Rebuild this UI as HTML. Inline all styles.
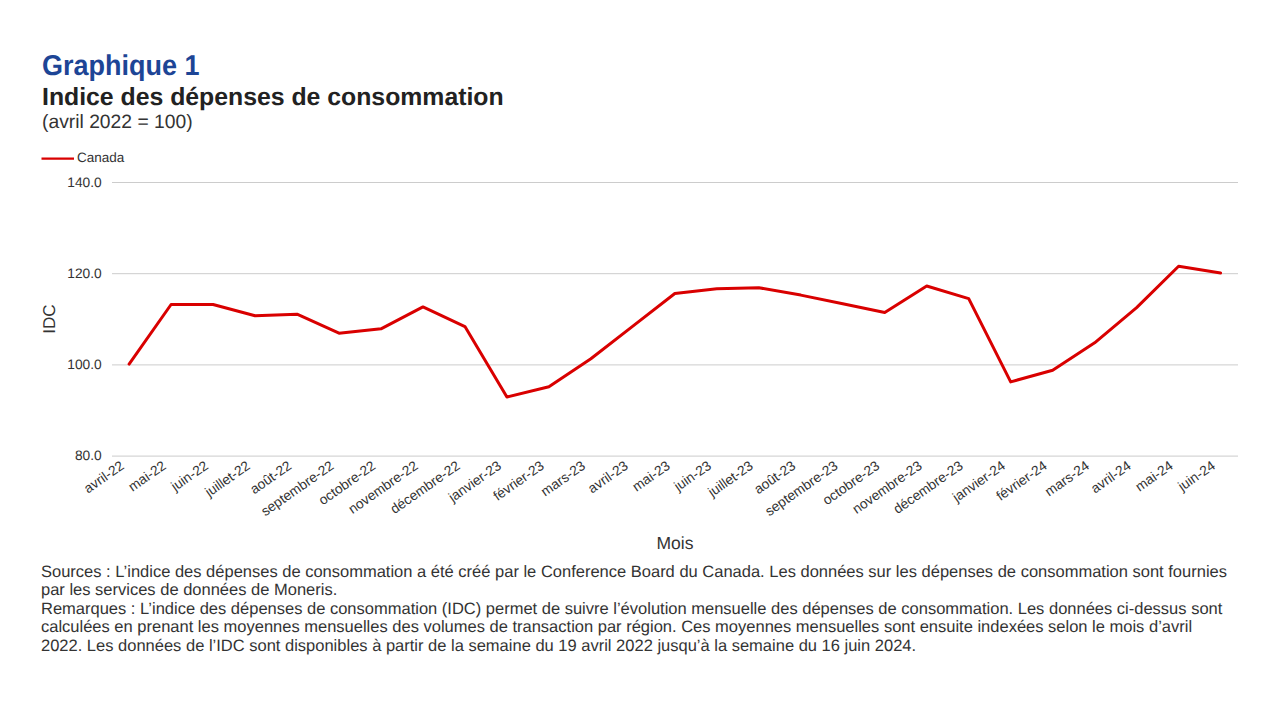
<!DOCTYPE html>
<html lang="fr"><head><meta charset="utf-8"><title>Graphique 1</title>
<style>
html,body{margin:0;padding:0;background:#fff;}
body{width:1284px;height:708px;position:relative;overflow:hidden;font-family:"Liberation Sans",sans-serif;color:#333;text-rendering:geometricPrecision;}
.abs{position:absolute;white-space:nowrap;}
#t1{left:42px;top:49px;font-size:27px;font-weight:bold;color:#1d4596;line-height:32px;transform-origin:0 10.4px;transform:scaleY(1.06);}
#t2{left:42px;top:82.8px;font-size:24.8px;font-weight:bold;color:#222;line-height:29px;}
#t3{left:42px;top:110.7px;font-size:19.3px;color:#333;line-height:23px;}
#leg{left:77px;top:150px;font-size:13.5px;color:#333;line-height:16px;}
.yl{position:absolute;right:1182.3px;font-size:13.75px;line-height:15px;color:#333;white-space:nowrap;}
.xl{position:absolute;font-size:13.75px;line-height:15px;color:#333;white-space:nowrap;transform-origin:100% 0;transform:rotate(-35deg);}
#idc{left:50.1px;top:318.6px;font-size:17.1px;color:#333;line-height:20px;transform:translate(-50%,-50%) rotate(-90deg);}
#mois{left:675px;top:532.8px;font-size:17.5px;color:#333;line-height:20px;transform:translateX(-50%);}
#notes{left:41px;top:562.5px;width:1191px;font-size:16.5px;line-height:18.5px;color:#333;white-space:normal;}
#notes p{margin:0;}
svg{position:absolute;left:0;top:0;}
</style></head><body>
<svg width="1284" height="708" viewBox="0 0 1284 708"><line x1="112" y1="182.5" x2="1238" y2="182.5" stroke="#cccccc" stroke-width="1"/><line x1="112" y1="273.7" x2="1238" y2="273.7" stroke="#cccccc" stroke-width="1"/><line x1="112" y1="364.9" x2="1238" y2="364.9" stroke="#cccccc" stroke-width="1"/><line x1="112" y1="456.1" x2="1238" y2="456.1" stroke="#cccccc" stroke-width="1"/><polyline points="129.10,364.10 171.08,304.50 213.06,304.50 255.04,315.70 297.02,314.20 339.00,333.20 380.98,328.80 422.96,306.90 464.94,326.60 506.92,397.00 548.90,386.70 590.88,358.70 632.86,326.10 674.84,293.50 716.82,288.80 758.80,287.70 800.78,295.10 842.76,303.70 884.74,312.50 926.72,286.00 968.70,298.60 1010.68,381.90 1052.66,370.30 1094.64,342.80 1136.62,307.60 1178.60,266.20 1220.58,273.00" fill="none" stroke="#d90000" stroke-width="3" stroke-linejoin="round" stroke-linecap="round"/><line x1="41.5" y1="158.6" x2="74" y2="158.6" stroke="#d90000" stroke-width="2.4"/></svg>
<div id="t1" class="abs">Graphique 1</div>
<div id="t2" class="abs">Indice des dépenses de consommation</div>
<div id="t3" class="abs">(avril 2022 = 100)</div>
<div id="leg" class="abs">Canada</div>
<div class="yl" style="top:174.5px">140.0</div><div class="yl" style="top:265.7px">120.0</div><div class="yl" style="top:356.9px">100.0</div><div class="yl" style="top:448.1px">80.0</div>
<div class="xl" style="right:1166.10px;top:457.7px">avril-22</div><div class="xl" style="right:1124.12px;top:457.7px">mai-22</div><div class="xl" style="right:1082.14px;top:457.7px">juin-22</div><div class="xl" style="right:1040.16px;top:457.7px">juillet-22</div><div class="xl" style="right:998.18px;top:457.7px">août-22</div><div class="xl" style="right:956.20px;top:457.7px">septembre-22</div><div class="xl" style="right:914.22px;top:457.7px">octobre-22</div><div class="xl" style="right:872.24px;top:457.7px">novembre-22</div><div class="xl" style="right:830.26px;top:457.7px">décembre-22</div><div class="xl" style="right:788.28px;top:457.7px">janvier-23</div><div class="xl" style="right:746.30px;top:457.7px">février-23</div><div class="xl" style="right:704.32px;top:457.7px">mars-23</div><div class="xl" style="right:662.34px;top:457.7px">avril-23</div><div class="xl" style="right:620.36px;top:457.7px">mai-23</div><div class="xl" style="right:578.38px;top:457.7px">juin-23</div><div class="xl" style="right:536.40px;top:457.7px">juillet-23</div><div class="xl" style="right:494.42px;top:457.7px">août-23</div><div class="xl" style="right:452.44px;top:457.7px">septembre-23</div><div class="xl" style="right:410.46px;top:457.7px">octobre-23</div><div class="xl" style="right:368.48px;top:457.7px">novembre-23</div><div class="xl" style="right:326.50px;top:457.7px">décembre-23</div><div class="xl" style="right:284.52px;top:457.7px">janvier-24</div><div class="xl" style="right:242.54px;top:457.7px">février-24</div><div class="xl" style="right:200.56px;top:457.7px">mars-24</div><div class="xl" style="right:158.58px;top:457.7px">avril-24</div><div class="xl" style="right:116.60px;top:457.7px">mai-24</div><div class="xl" style="right:74.62px;top:457.7px">juin-24</div>
<div id="idc" class="abs">IDC</div>
<div id="mois" class="abs">Mois</div>
<div id="notes" class="abs">
<p>Sources : L’indice des dépenses de consommation a été créé par le Conference Board du Canada. Les données sur les dépenses de consommation sont fournies par les services de données de Moneris.</p>
<p>Remarques : L’indice des dépenses de consommation (IDC) permet de suivre l’évolution mensuelle des dépenses de consommation. Les données ci-dessus sont calculées en prenant les moyennes mensuelles des volumes de transaction par région. Ces moyennes mensuelles sont ensuite indexées selon le mois d’avril 2022. Les données de l’IDC sont disponibles à partir de la semaine du 19 avril 2022 jusqu’à la semaine du 16 juin 2024.</p>
</div>
</body></html>
